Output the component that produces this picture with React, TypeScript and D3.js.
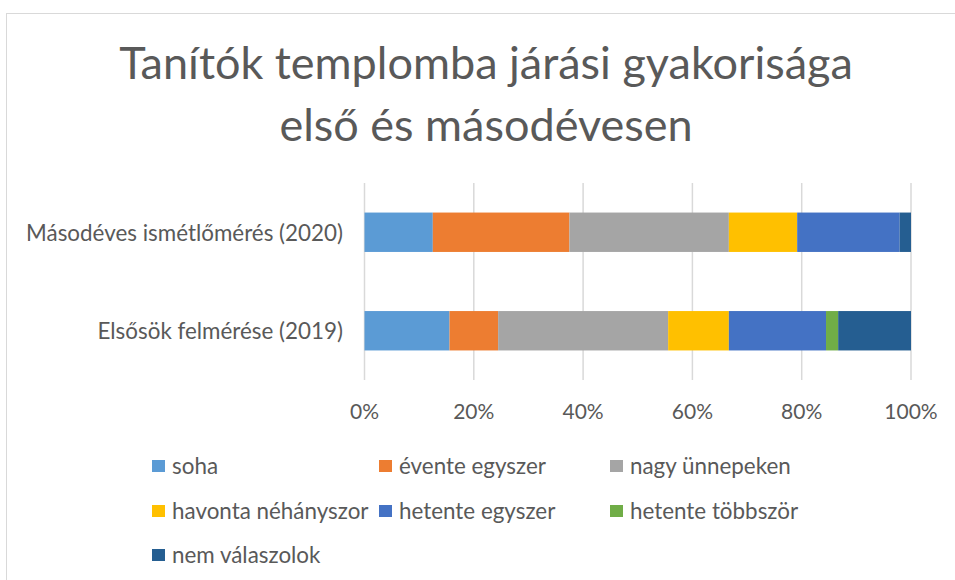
import React from "react";
import * as d3 from "d3";

const categories = ["Elsősök felmérése (2019)", "Másodéves ismétlőmérés (2020)"];
const seriesNames = [
  "soha",
  "évente egyszer",
  "nagy ünnepeken",
  "havonta néhányszor",
  "hetente egyszer",
  "hetente többször",
  "nem válaszolok",
];
// percentages per category (same order as categories)
const soha = [15.56, 12.5];
const eventeEgyszer = [8.89, 25.0];
const nagyUnnepeken = [31.11, 29.17];
const havontaNehanyszor = [11.11, 12.5];
const hetenteEgyszer = [17.78, 18.75];
const hetenteTobbszor = [2.22, 0];
const nemValaszolok = [13.33, 2.08];
const xTicks = [0, 20, 40, 60, 80, 100];
const titleLines = ["Tanítók templomba járási gyakorisága", "első és másodévesen"];

const colors = ["#5B9BD5", "#ED7D31", "#A5A5A5", "#FFC000", "#4472C4", "#70AD47", "#255E91"];

export default function App() {
  const W = 955;
  const H = 580;
  const font = "Lato, 'Open Sans', sans-serif";
  const textColor = "#595959";

  const seriesValues = [soha, eventeEgyszer, nagyUnnepeken, havontaNehanyszor, hetenteEgyszer, hetenteTobbszor, nemValaszolok];
  const rows = categories.map((c, i) => {
    const r: any = { cat: c };
    seriesNames.forEach((s, j) => (r[s] = seriesValues[j][i]));
    return r;
  });
  const stack = d3.stack<any>().keys(seriesNames)(rows);

  const x = d3.scaleLinear().domain([0, 100]).range([364.5, 911]);
  const y = d3
    .scaleBand()
    .domain([categories[1], categories[0]])
    .range([183, 380])
    .paddingInner(0.6)
    .paddingOuter(0.3);

  const legendCols = [152, 379, 610];
  const legendRows = [466, 511, 555];

  return (
    <div style={{ position: "fixed", left: 0, top: 0 }}>
      <svg width={W} height={H} style={{ display: "block", background: "#fff" }}>
        <rect x={6.5} y={13.5} width={970} height={600} fill="#fff" stroke="#d9d9d9" strokeWidth={1} />
        {titleLines.map((t, i) => (
          <text
            key={i}
            x={486}
            y={79 + i * 62}
            textAnchor="middle"
            fontFamily={font}
            fontSize={45}
            fill={textColor}
          >
            {t}
          </text>
        ))}
        {xTicks.map((t) => (
          <g key={t}>
            <line x1={x(t)} x2={x(t)} y1={183} y2={380} stroke="#d9d9d9" strokeWidth={1.5} />
            <text x={x(t)} y={419} textAnchor="middle" fontFamily={font} fontSize={21} fill={textColor}>
              {t}%
            </text>
          </g>
        ))}
        {stack.map((s, si) => (
          <g key={s.key} fill={colors[si]}>
            {s.map((d: any) => (
              <rect
                key={d.data.cat}
                x={x(d[0])}
                y={y(d.data.cat)}
                width={Math.max(0, x(d[1]) - x(d[0]))}
                height={y.bandwidth()}
              />
            ))}
          </g>
        ))}
        {categories.map((c) => (
          <text
            key={c}
            x={343}
            y={(y(c) as number) + y.bandwidth() / 2}
            dy="0.37em"
            textAnchor="end"
            fontFamily={font}
            fontSize={22.4}
            fill={textColor}
          >
            {c}
          </text>
        ))}
        {seriesNames.map((s, i) => {
          const cx = legendCols[i % 3];
          const cy = legendRows[Math.floor(i / 3)];
          return (
            <g key={s}>
              <rect x={cx} y={cy - 6} width={13} height={12} fill={colors[i]} />
              <text x={cx + 20} y={cy} dy="0.37em" fontFamily={font} fontSize={22.4} fill={textColor}>
                {s}
              </text>
            </g>
          );
        })}
      </svg>
    </div>
  );
}
